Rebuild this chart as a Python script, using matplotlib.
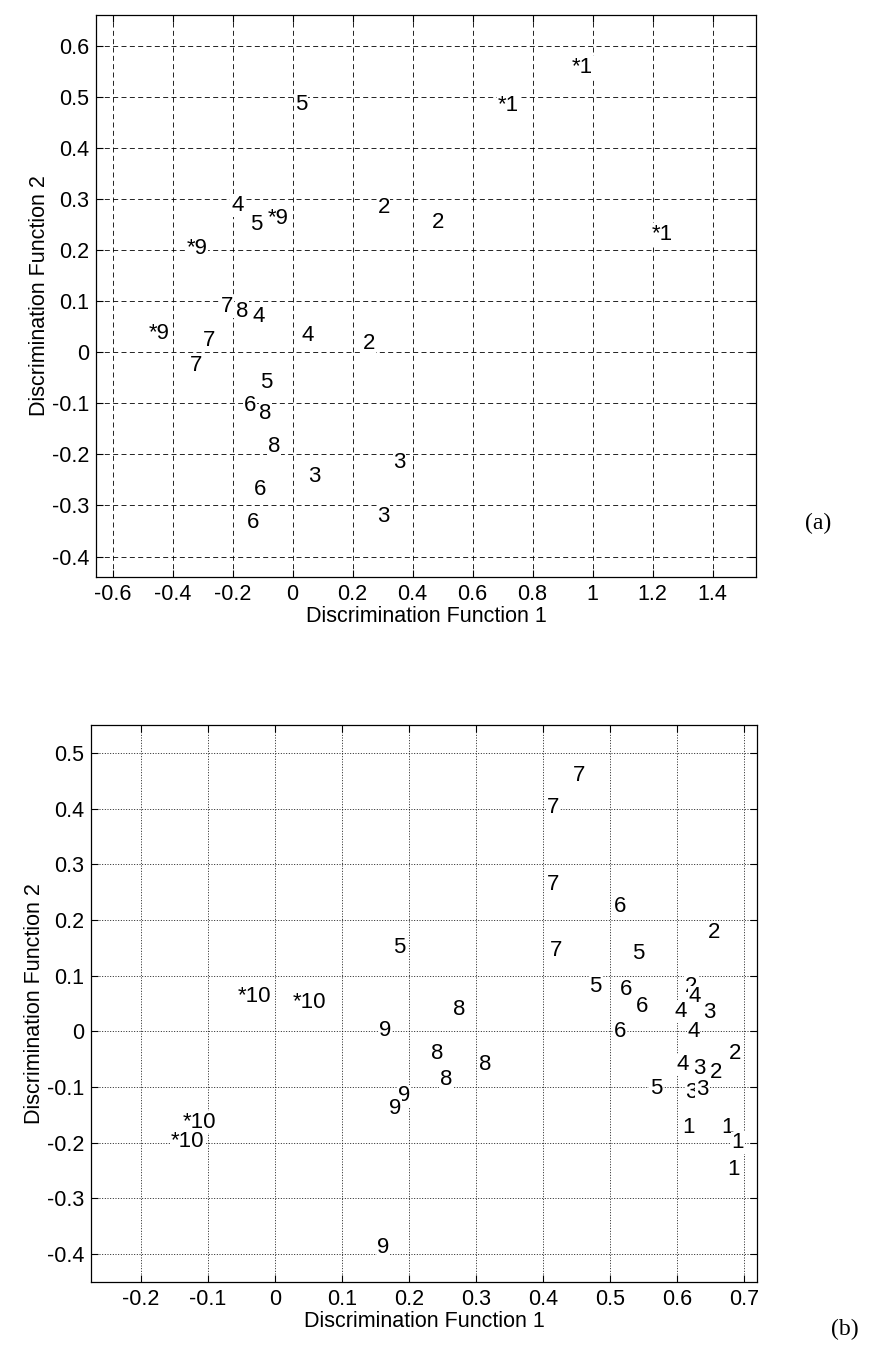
import matplotlib
matplotlib.use("Agg")
import matplotlib.pyplot as plt
import numpy as np

plt.rcParams['font.family'] = ['Liberation Sans', 'DejaVu Sans']

# panel (a): discriminant scores, label = class number
a_x = [0.931, 0.683, 1.196, -0.082, 0.009, -0.205, -0.140, 0.283, 0.463,
       -0.354, -0.238, -0.190, -0.133, -0.479, -0.300, 0.029, 0.235, -0.342,
       -0.108, -0.162, -0.111, -0.082, 0.336, 0.052, -0.128, 0.283, -0.152]
a_y = [0.558, 0.483, 0.231, 0.261, 0.485, 0.287, 0.250, 0.283, 0.254,
       0.202, 0.089, 0.080, 0.069, 0.037, 0.022, 0.033, 0.017, -0.027,
       -0.059, -0.105, -0.120, -0.185, -0.216, -0.243, -0.268, -0.321, -0.334]
a_lab = ['*1', '*1', '*1', '*9', '5', '4', '5', '2', '2',
         '*9', '7', '8', '4', '*9', '7', '4', '2', '7',
         '5', '6', '8', '8', '3', '3', '6', '3', '6']

# panel (b)
b_x = [0.445, 0.406, 0.406, 0.505, 0.646, 0.177, 0.410, 0.533, -0.055, 0.027,
       0.469, 0.515, 0.611, 0.617, 0.538, 0.596, 0.638, 0.265, 0.156, 0.506,
       0.615, 0.233, 0.677, 0.305, 0.599, 0.624, 0.648, 0.246, 0.559, 0.612,
       0.628, 0.183, 0.170, -0.137, -0.155, 0.608, 0.666, 0.681, 0.674, 0.153]
b_y = [0.459, 0.402, 0.264, 0.225, 0.177, 0.151, 0.145, 0.139, 0.062, 0.052,
       0.081, 0.075, 0.081, 0.062, 0.044, 0.035, 0.033, 0.040, 0.002, -0.001,
       -0.001, -0.040, -0.040, -0.060, -0.060, -0.067, -0.073, -0.086, -0.103, -0.109,
       -0.105, -0.116, -0.138, -0.163, -0.198, -0.173, -0.173, -0.200, -0.248, -0.388]
b_lab = ['7', '7', '7', '6', '2', '5', '7', '5', '*10', '*10',
         '5', '6', '2', '4', '6', '4', '3', '8', '9', '6',
         '4', '8', '2', '8', '4', '3', '2', '8', '5', '3',
         '3', '9', '9', '*10', '*10', '1', '1', '1', '1', '9']

a_xticks = [-0.6, -0.4, -0.2, 0, 0.2, 0.4, 0.6, 0.8, 1, 1.2, 1.4]
a_yticks = [-0.4, -0.3, -0.2, -0.1, 0, 0.1, 0.2, 0.3, 0.4, 0.5, 0.6]
b_xticks = [-0.2, -0.1, 0, 0.1, 0.2, 0.3, 0.4, 0.5, 0.6, 0.7]
b_yticks = [-0.4, -0.3, -0.2, -0.1, 0, 0.1, 0.2, 0.3, 0.4, 0.5]

FS = 15.5


def fmt(v):
    s = '%g' % round(v, 3)
    return '0' if s == '-0' else s


def setup(ax, xl, yl, xt, yt, dash):
    ax.set_xlim(*xl)
    ax.set_ylim(*yl)
    ax.set_xticks(xt)
    ax.set_yticks(yt)
    ax.set_xticklabels([fmt(v) for v in xt])
    ax.set_yticklabels([fmt(v) for v in yt])
    ax.tick_params(direction='in', length=5, width=0.8, labelsize=FS,
                   top=True, right=True, pad=5)
    ax.grid(True, color='black', linewidth=0.6, linestyle=dash)
    ax.set_axisbelow(True)
    for sp in ax.spines.values():
        sp.set_linewidth(0.9)
    ax.set_xlabel('Discrimination Function 1', fontsize=FS, labelpad=1)
    ax.set_ylabel('Discrimination Function 2', fontsize=FS, labelpad=1)


def put_labels(ax, xs, ys, labs):
    for x, y, s in zip(xs, ys, labs):
        ax.text(x, y, s, ha='left', va='center', fontsize=FS + 0.5,
                bbox=dict(facecolor='white', edgecolor='none', pad=0.5))


fig = plt.figure(figsize=(8.71, 13.65), dpi=100)

ax1 = fig.add_axes([96 / 871, 1 - 577 / 1365, 660 / 871, 562 / 1365])
setup(ax1, (-0.655, 1.545), (-0.44, 0.66), a_xticks, a_yticks, (0, (6, 4)))
put_labels(ax1, a_x, a_y, a_lab)

ax2 = fig.add_axes([91 / 871, 1 - 1282 / 1365, 666 / 871, 557 / 1365])
setup(ax2, (-0.274, 0.719), (-0.45, 0.55), b_xticks, b_yticks, (0, (1.2, 2)))
put_labels(ax2, b_x, b_y, b_lab)

fig.text(818 / 871, 1 - 523 / 1365, '(a)', family='Liberation Serif',
         fontsize=17, ha='center', va='center')
fig.text(845 / 871, 1 - 1329 / 1365, '(b)', family='Liberation Serif',
         fontsize=17, ha='center', va='center')

fig.savefig('out.png', dpi=100, facecolor='white')
